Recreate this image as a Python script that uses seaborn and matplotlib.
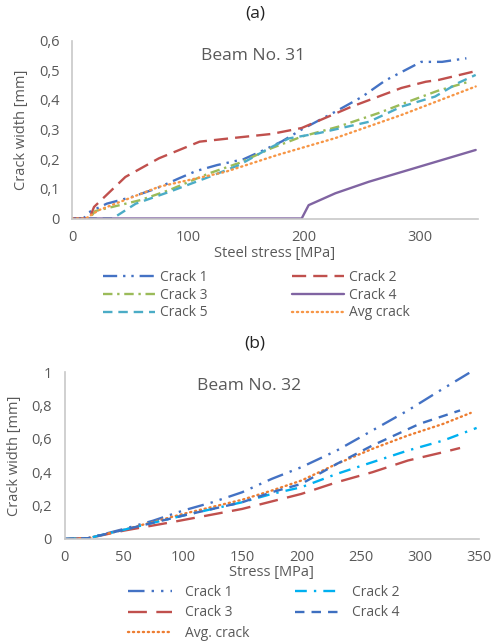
import numpy as np
import pandas as pd
import matplotlib
matplotlib.use("Agg")
import matplotlib.pyplot as plt
import seaborn as sns

# ---- Beam No. 31 (steel stress MPa -> crack width mm) ----
a_c1_x = [0, 10, 14, 30, 51, 72, 92, 107, 125, 148, 165, 181, 198, 227, 250, 270, 301, 319, 340]
a_c1_y = [0, 0, 0.02, 0.05, 0.072, 0.10, 0.135, 0.16, 0.18, 0.20, 0.23, 0.26, 0.30, 0.36, 0.41, 0.465, 0.528, 0.528, 0.54]
a_c2_x = [0, 15, 19, 46, 75, 110, 138, 172, 198, 241, 284, 305, 316, 346]
a_c2_y = [0, 0, 0.039, 0.14, 0.203, 0.259, 0.271, 0.285, 0.305, 0.377, 0.44, 0.461, 0.467, 0.495]
a_c3_x = [0, 15, 20, 59, 84, 118, 144, 172, 198, 230, 264, 290, 315, 342]
a_c3_y = [0, 0, 0.025, 0.062, 0.096, 0.152, 0.187, 0.237, 0.276, 0.31, 0.355, 0.394, 0.43, 0.461]
a_c4_x = [0, 198, 204, 227, 256, 299, 348]
a_c4_y = [0, 0, 0.045, 0.085, 0.124, 0.174, 0.231]
a_c5_x = [0, 35, 55, 84, 118, 144, 170, 187, 213, 256, 284, 313, 333, 348]
a_c5_y = [0, 0, 0.05, 0.09, 0.14, 0.18, 0.237, 0.27, 0.288, 0.326, 0.377, 0.411, 0.457, 0.484]
a_avg_x = [0, 12, 23, 75, 132, 177, 227, 284, 348]
a_avg_y = [0, 0, 0.028, 0.107, 0.157, 0.214, 0.271, 0.349, 0.445]

# ---- Beam No. 32 ----
b_c1_x = [0, 20, 50, 75, 100, 125, 150, 175, 200, 230, 260, 290, 315, 343]
b_c1_y = [0, 0.005, 0.06, 0.11, 0.17, 0.22, 0.28, 0.36, 0.43, 0.53, 0.65, 0.77, 0.88, 1.0]
b_c2_x = [0, 20, 50, 100, 150, 175, 200, 230, 260, 290, 320, 348]
b_c2_y = [0, 0.005, 0.055, 0.14, 0.22, 0.27, 0.31, 0.39, 0.46, 0.53, 0.59, 0.665]
b_c3_x = [0, 20, 50, 90, 120, 150, 175, 200, 230, 260, 290, 320, 334]
b_c3_y = [0, 0.005, 0.05, 0.10, 0.14, 0.18, 0.225, 0.27, 0.34, 0.40, 0.47, 0.52, 0.545]
b_c4_x = [0, 20, 50, 100, 150, 175, 200, 230, 260, 300, 334]
b_c4_y = [0, 0.005, 0.055, 0.14, 0.22, 0.28, 0.33, 0.45, 0.56, 0.69, 0.77]
b_avg_x = [0, 20, 50, 100, 150, 175, 200, 230, 260, 290, 320, 343]
b_avg_y = [0, 0.005, 0.055, 0.15, 0.235, 0.29, 0.35, 0.45, 0.54, 0.62, 0.69, 0.755]

a_ticks_x = [0, 100, 200, 300]
a_ticks_y = [0, 0.1, 0.2, 0.3, 0.4, 0.5, 0.6]
b_ticks_x = [0, 50, 100, 150, 200, 250, 300, 350]
b_ticks_y = [0, 0.2, 0.4, 0.6, 0.8, 1.0]

sns.set_style("white")
plt.rcParams["font.family"] = ["Open Sans", "DejaVu Sans"]

GREY = "#595959"
SPINE = "#c8c8c8"


def comma(v):
    return ("%g" % v).replace(".", ",")


def style_axes(ax, xt, yt, ylim, xlabel, title, tpad, lpad):
    ax.set_xlim(0, 350)
    ax.set_ylim(*ylim)
    ax.set_xticks(xt)
    ax.set_yticks(yt)
    ax.set_xticklabels([comma(v) for v in xt])
    ax.set_yticklabels([comma(v) for v in yt])
    ax.tick_params(length=0, labelsize=10.5, colors=GREY, pad=9)
    ax.tick_params(axis="x", pad=tpad)
    for s in ["top", "right"]:
        ax.spines[s].set_visible(False)
    for s in ["left", "bottom"]:
        ax.spines[s].set_color(SPINE)
        ax.spines[s].set_linewidth(1.2)
    ax.set_xlabel(xlabel, fontsize=10.5, color=GREY, labelpad=lpad)
    ax.set_ylabel("Crack width [mm]", fontsize=10.5, color=GREY, labelpad=7)
    ax.text(0.445, 0.915, title, transform=ax.transAxes, ha="center", va="center",
            fontsize=12.5, color=GREY)


def draw(ax, x, y, color, dashes, label):
    df = pd.DataFrame({"x": x, "y": y})
    sns.lineplot(data=df, x="x", y="y", ax=ax, color=color, lw=1.7,
                 sort=False, label=label, legend=False)
    ln = ax.lines[-1]
    if dashes is None:
        ln.set_linestyle("-")
    else:
        ln.set_linestyle((0, dashes))
    if dashes == (0.5, 1.6):
        ln.set_dash_capstyle("round")
    return ln


fig = plt.figure(figsize=(5, 6.44), dpi=100)

# ---- panel (a) ----
ax1 = fig.add_axes([72 / 500, 1 - 218.5 / 644, 406 / 500, 178 / 644])
h1 = [
    draw(ax1, a_c1_x, a_c1_y, "#4472C4", (6, 2.5, 1, 2.5, 1, 2.5), "Crack 1"),
    draw(ax1, a_c3_x, a_c3_y, "#9BBB59", (4, 2, 1, 2), "Crack 3"),
    draw(ax1, a_c5_x, a_c5_y, "#4BACC6", (4, 2.5), "Crack 5"),
    draw(ax1, a_c2_x, a_c2_y, "#C0504D", (6, 3), "Crack 2"),
    draw(ax1, a_c4_x, a_c4_y, "#8064A2", None, "Crack 4"),
    draw(ax1, a_avg_x, a_avg_y, "#F79646", (0.5, 1.6), "Avg crack"),
]
style_axes(ax1, a_ticks_x, a_ticks_y, (0, 0.6), "Steel stress [MPa]", "Beam No. 31", 8, 1)
fig.text(0.51, 1 - 13 / 644, "(a)", ha="center", va="center", fontsize=12.5, color="#222222")
fig.legend(handles=h1, labels=[h.get_label() for h in h1], ncol=2, frameon=False,
           loc="upper left", bbox_to_anchor=(96 / 500, 1 - 263 / 644),
           fontsize=10, handlelength=3.74, handletextpad=0.36, columnspacing=6.1,
           labelspacing=0.2, borderpad=0, labelcolor=GREY)

# ---- panel (b) ----
ax2 = fig.add_axes([64.5 / 500, 1 - 539 / 644, 414.5 / 500, 167 / 644])
h2 = [
    draw(ax2, b_c1_x, b_c1_y, "#4472C4", (7, 3, 1, 3, 1, 3), "Crack 1"),
    draw(ax2, b_c3_x, b_c3_y, "#C0504D", (8, 4), "Crack 3"),
    draw(ax2, b_avg_x, b_avg_y, "#ED7D31", (0.5, 1.6), "Avg. crack"),
    draw(ax2, b_c2_x, b_c2_y, "#00B0F0", (5, 3, 1, 3), "Crack 2"),
    draw(ax2, b_c4_x, b_c4_y, "#3E6FC0", (4, 3), "Crack 4"),
]
style_axes(ax2, b_ticks_x, b_ticks_y, (0, 1.0), "Stress [MPa]", "Beam No. 32", 8, 0)
fig.text(0.51, 1 - 344 / 644, "(b)", ha="center", va="center", fontsize=12.5, color="#222222")
fig.legend(handles=h2, labels=[h.get_label() for h in h2], ncol=2, frameon=False,
           loc="upper left", bbox_to_anchor=(121 / 500, 1 - 578 / 644),
           fontsize=10, handlelength=3.17, handletextpad=0.93, columnspacing=3.3,
           labelspacing=0.4, borderpad=0, labelcolor=GREY)

fig.savefig("out.png", dpi=100)
